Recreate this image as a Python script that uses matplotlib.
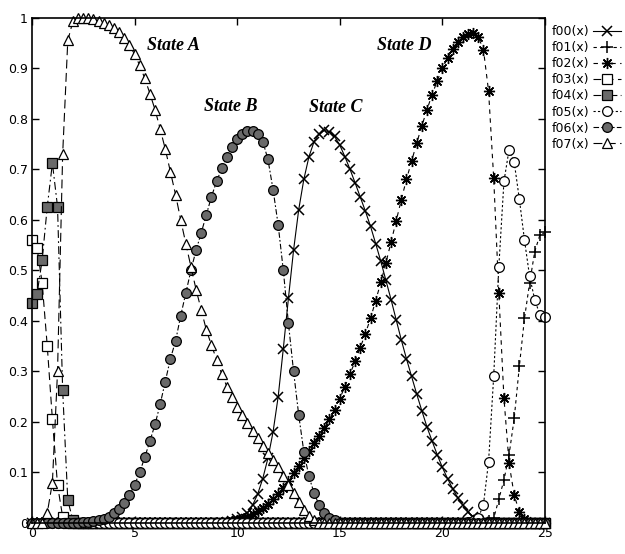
import numpy as np
import matplotlib
matplotlib.use('Agg')
import matplotlib.pyplot as plt

plt.rcParams['font.family'] = ['Liberation Sans Narrow', 'DejaVu Sans']

# common x grid of the gnuplot samples
x = np.arange(0, 25.001, 0.25)

# each series: first x of its non-zero part and the values
# (everything outside that part sits on y = 0)
f00_start = 9.5
f00_vals = [0.002, 0.004, 0.007, 0.012, 0.02, 0.035, 0.057, 0.088, 0.128, 0.18,
            0.25, 0.345, 0.445, 0.54, 0.62, 0.68, 0.725, 0.755, 0.77, 0.777,
            0.774, 0.765, 0.748, 0.725, 0.70, 0.673, 0.645, 0.617, 0.587, 0.553,
            0.518, 0.48, 0.442, 0.402, 0.362, 0.325, 0.29, 0.255, 0.222, 0.19,
            0.162, 0.135, 0.11, 0.088, 0.068, 0.05, 0.035, 0.022, 0.012, 0.006,
            0.002]

f01_start = 22.0
f01_vals = [0.001, 0.003, 0.009, 0.047, 0.085, 0.135, 0.207, 0.31, 0.405, 0.475,
            0.537, 0.57, 0.575]

f02_start = 9.5
f02_vals = [0.002, 0.003, 0.005, 0.008, 0.012, 0.018, 0.024, 0.03, 0.038, 0.047,
            0.057, 0.069, 0.083, 0.098, 0.113, 0.128, 0.143, 0.158, 0.173, 0.188,
            0.205, 0.224, 0.246, 0.27, 0.295, 0.32, 0.347, 0.375, 0.405, 0.44,
            0.476, 0.515, 0.556, 0.598, 0.64, 0.68, 0.716, 0.752, 0.786, 0.818,
            0.848, 0.875, 0.90, 0.92, 0.938, 0.952, 0.962, 0.968, 0.97, 0.962,
            0.937, 0.855, 0.683, 0.455, 0.247, 0.118, 0.055, 0.022, 0.008, 0.002]

f03_start = 0.0
f03_vals = [0.56, 0.545, 0.475, 0.35, 0.205, 0.075, 0.012]

f04_start = 0.0
f04_vals = [0.435, 0.453, 0.52, 0.626, 0.712, 0.626, 0.263, 0.045, 0.005]

f05_start = 21.25
f05_vals = [0.001, 0.003, 0.01, 0.036, 0.121, 0.29, 0.507, 0.676, 0.739, 0.714,
            0.641, 0.56, 0.488, 0.442, 0.412, 0.408]

f06_start = 2.5
f06_vals = [0.001, 0.002, 0.003, 0.005, 0.008, 0.012, 0.02, 0.028, 0.04, 0.055,
            0.075, 0.10, 0.13, 0.162, 0.195, 0.235, 0.28, 0.325, 0.36, 0.41,
            0.455, 0.50, 0.54, 0.574, 0.61, 0.646, 0.676, 0.702, 0.725, 0.745,
            0.76, 0.77, 0.775, 0.775, 0.77, 0.755, 0.72, 0.66, 0.59, 0.50,
            0.395, 0.30, 0.214, 0.141, 0.092, 0.059, 0.035, 0.02, 0.01, 0.005]

f07_start = 0.75
f07_vals = [0.02, 0.08, 0.30, 0.73, 0.955, 0.993, 0.999, 1.0, 0.999, 0.997,
            0.994, 0.99, 0.985, 0.979, 0.971, 0.96, 0.946, 0.928, 0.906, 0.88,
            0.85, 0.818, 0.78, 0.74, 0.695, 0.65, 0.60, 0.553, 0.507, 0.462,
            0.422, 0.382, 0.352, 0.323, 0.295, 0.27, 0.249, 0.23, 0.213, 0.197,
            0.182, 0.168, 0.153, 0.139, 0.125, 0.11, 0.093, 0.076, 0.059, 0.042,
            0.026, 0.013, 0.005]

state_labels = ['State A', 'State B', 'State C', 'State D']
state_pos = [(5.6, 0.945), (8.4, 0.825), (13.5, 0.822), (16.8, 0.945)]


def full_series(start, vals):
    y = np.zeros_like(x)
    i0 = int(round(start / 0.25))
    y[i0:i0 + len(vals)] = vals
    return y


gray = '#6a6a6a'
styles = [
    ('f00(x)', f00_start, f00_vals, dict(ls='-', marker='x', ms=7, mew=1.1, mfc='none')),
    ('f01(x)', f01_start, f01_vals, dict(ls=(0, (3, 3)), marker='+', ms=9, mew=1.1, mfc='none')),
    ('f02(x)', f02_start, f02_vals, dict(ls=(0, (4, 4)), marker=(8, 2, 0), ms=8, mew=1.0, mfc='none')),
    ('f03(x)', f03_start, f03_vals, dict(ls=(0, (7, 4)), marker='s', ms=7, mew=0.9, mfc='white')),
    ('f04(x)', f04_start, f04_vals, dict(ls=(0, (7, 3, 1.5, 3)), marker='s', ms=7, mew=0.9, mfc=gray)),
    ('f05(x)', f05_start, f05_vals, dict(ls=(0, (2, 2)), marker='o', ms=7, mew=0.9, mfc='white')),
    ('f06(x)', f06_start, f06_vals, dict(ls=(0, (5, 2, 1.5, 2)), marker='o', ms=7, mew=0.9, mfc=gray)),
    ('f07(x)', f07_start, f07_vals, dict(ls=(0, (8, 4)), marker='^', ms=7, mew=0.9, mfc='white')),
]

fig = plt.figure(figsize=(6.25, 5.54), dpi=100)
ax = fig.add_axes([0.051, 0.056, 0.821, 0.912])

for name, start, vals, st in styles:
    y = full_series(start, vals)
    ax.plot(x, y, color='black', lw=0.8, mec='black', clip_on=False, label=name, **st)

for txt, (sx, sy) in zip(state_labels, state_pos):
    ax.text(sx, sy, txt, family='Liberation Serif', weight='bold', style='italic',
            fontsize=13, va='center', ha='left')

ax.set_xlim(0, 25)
ax.set_ylim(0, 1)
ax.set_xticks(np.arange(0, 26, 5))
ax.set_yticks(np.round(np.arange(0, 1.01, 0.1), 1))
ax.set_yticklabels(['%g' % v for v in np.round(np.arange(0, 1.01, 0.1), 1)])
ax.tick_params(direction='in', top=True, right=True, length=5, width=1, labelsize=9, pad=3)
for sp in ax.spines.values():
    sp.set_linewidth(1.2)

fig.legend(loc='upper left', bbox_to_anchor=(0.882, 0.955), frameon=False,
           markerfirst=False, fontsize=9, handlelength=2.3, handletextpad=0.3,
           labelspacing=0.25, borderpad=0, borderaxespad=0)

fig.savefig('out.png', dpi=100)
